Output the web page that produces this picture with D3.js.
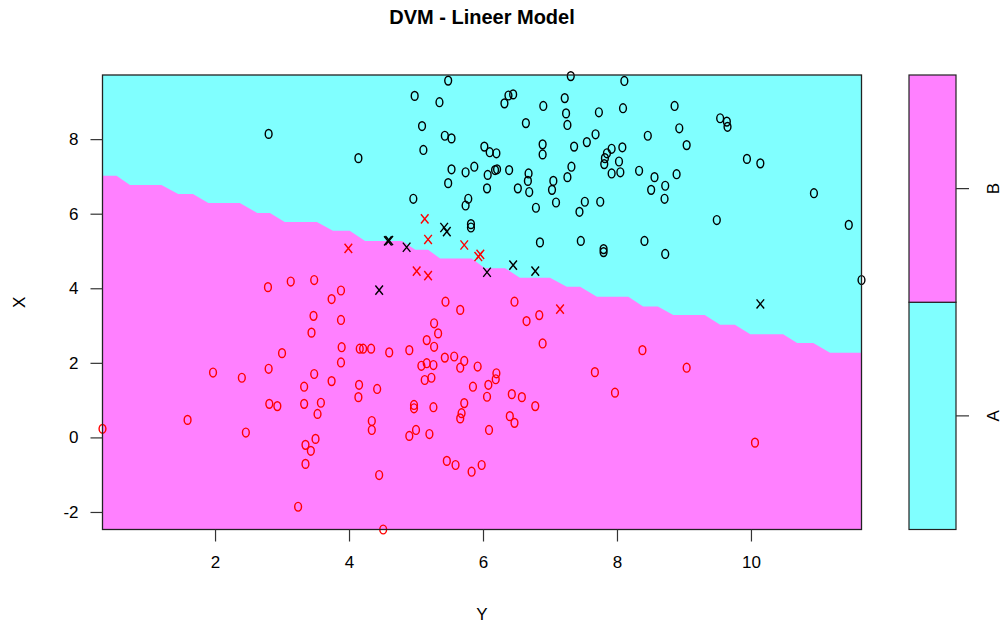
<!DOCTYPE html>
<html>
<head>
<meta charset="utf-8">
<script src="https://cdn.jsdelivr.net/npm/d3@7"></script>
<style>
    body { margin: 0; background: #fff; }
    text { font-family: "Liberation Sans", Arial, sans-serif; fill: #000; }
</style>
</head>
<body>
<svg id="chart" width="1008" height="632"></svg>
<script>
// decision boundary (top edge of the B region)
var boundary = [
    [0.32, 7.02], [0.53, 7.02], [0.73, 6.77], [1.20, 6.77], [1.45, 6.53], [1.67, 6.53],
    [1.90, 6.29], [2.37, 6.29], [2.63, 6.02], [2.82, 6.02], [3.04, 5.78], [3.52, 5.78],
    [3.76, 5.54], [4.01, 5.54], [4.24, 5.27], [4.79, 5.27], [4.99, 5.03], [5.18, 5.03],
    [5.36, 4.80], [5.83, 4.80], [6.03, 4.54], [6.33, 4.54], [6.55, 4.28], [7.00, 4.28],
    [7.25, 4.04], [7.45, 4.04], [7.70, 3.77], [8.17, 3.77], [8.39, 3.51], [8.61, 3.51],
    [8.84, 3.28], [9.31, 3.28], [9.54, 3.02], [9.76, 3.02], [9.99, 2.77], [10.48, 2.77],
    [10.69, 2.53], [10.93, 2.53], [11.18, 2.27], [11.65, 2.27]
];

// class A, not support vectors (black o)
var classA = [
    [5.48, 9.57], [4.98, 9.16], [5.35, 8.99], [6.38, 9.17], [6.45, 9.20], [6.32, 8.96],
    [7.31, 9.69], [7.22, 9.10], [6.90, 8.89], [7.24, 8.69], [7.26, 8.38], [7.73, 8.72],
    [5.09, 8.35], [6.64, 8.43], [5.43, 8.09], [5.53, 8.02], [5.11, 7.71], [4.14, 7.49],
    [6.02, 7.80], [6.10, 7.65], [6.20, 7.62], [6.89, 7.86], [6.89, 7.59], [7.36, 7.80],
    [7.55, 7.92], [7.68, 8.13], [5.53, 7.19], [5.87, 7.26], [5.74, 7.11], [6.07, 7.04],
    [6.18, 7.17], [6.21, 7.19], [6.39, 7.17], [6.68, 7.08], [6.67, 6.88], [7.32, 7.26],
    [7.26, 6.98], [7.05, 6.88], [7.03, 6.64], [5.48, 6.82], [6.06, 6.68], [6.52, 6.68],
    [6.69, 6.58], [4.96, 6.40], [5.78, 6.40], [5.74, 6.22], [6.79, 6.16], [7.09, 6.30],
    [7.52, 6.32], [7.44, 6.05], [7.75, 6.32], [5.82, 5.72], [5.82, 5.63], [6.85, 5.23],
    [7.46, 5.27], [2.80, 8.14],
    [8.11, 9.56], [8.09, 8.83], [8.86, 8.89], [9.54, 8.56], [9.64, 8.47], [9.65, 8.33],
    [8.46, 8.09], [8.93, 8.29], [9.04, 7.84], [9.94, 7.47], [10.14, 7.35], [7.85, 7.62],
    [7.92, 7.74], [8.08, 7.78], [7.82, 7.49], [7.81, 7.33], [8.03, 7.40], [7.92, 7.08],
    [8.05, 7.11], [8.33, 7.15], [8.56, 6.98], [8.89, 7.06], [8.72, 6.75], [8.51, 6.64],
    [8.71, 6.40], [9.49, 5.83], [10.94, 6.55], [11.46, 5.70], [11.65, 4.22], [8.41, 5.27],
    [8.72, 4.92], [7.80, 5.05], [7.80, 4.97]
];

// class B, not support vectors (red o)
var classB = [
    [2.79, 4.03], [3.13, 4.18], [3.48, 4.22], [3.88, 3.94], [3.74, 3.71],
    [3.47, 3.26], [3.88, 3.15], [3.44, 2.81], [3.00, 2.26], [3.89, 2.42], [3.88, 2.01],
    [1.97, 1.74], [2.40, 1.60], [2.80, 1.84], [3.48, 1.70], [3.74, 1.51], [3.33, 1.36],
    [2.81, 0.90], [2.93, 0.84], [3.33, 0.90], [3.58, 0.93], [3.53, 0.63], [1.59, 0.47],
    [0.32, 0.23], [2.46, 0.13], [3.50, -0.04], [3.35, -0.20], [3.43, -0.36], [3.35, -0.71],
    [3.24, -1.86],
    [5.44, 3.64], [5.66, 3.42], [6.47, 3.64], [6.65, 3.12], [6.84, 3.28], [5.27, 3.06],
    [5.33, 2.79], [5.16, 2.61], [5.27, 2.43], [4.16, 2.38], [4.21, 2.38], [4.33, 2.38],
    [4.60, 2.28], [4.90, 2.34], [6.89, 2.52], [5.08, 1.92], [5.16, 1.99], [5.26, 1.94],
    [5.43, 2.14], [5.57, 2.17], [5.72, 2.05], [5.66, 1.87], [5.92, 1.90], [6.20, 1.72],
    [6.19, 1.56], [6.08, 1.41], [5.85, 1.36], [6.06, 1.09], [5.13, 1.54], [5.23, 1.60],
    [4.15, 1.41], [4.42, 1.30], [4.14, 1.08], [6.43, 1.16], [6.58, 1.08], [6.78, 0.84],
    [7.67, 1.75], [4.97, 0.87], [4.97, 0.78], [5.26, 0.81], [5.72, 0.92], [5.68, 0.65],
    [5.66, 0.51], [6.40, 0.57], [6.47, 0.39], [4.34, 0.44], [4.34, 0.20], [5.00, 0.20],
    [4.90, 0.04], [5.20, 0.09], [6.09, 0.20], [5.46, -0.63], [5.59, -0.74], [5.83, -0.92],
    [5.98, -0.74], [4.45, -1.01], [4.51, -2.47],
    [8.38, 2.34], [7.97, 1.20], [9.04, 1.87], [10.06, -0.14]
];

// support vectors (x)
var supportA = [
    [5.42, 5.63], [5.46, 5.52], [4.58, 5.27], [4.60, 5.28], [4.86, 5.10],
    [6.06, 4.43], [6.45, 4.62], [6.78, 4.46], [4.45, 3.95], [10.14, 3.58]
];
var supportB = [
    [3.99, 5.07], [5.13, 5.86], [5.18, 5.31], [5.72, 5.16], [5.93, 4.85],
    [5.96, 4.91], [5.01, 4.46], [5.18, 4.34], [7.15, 3.44]
];

var xTicks = [2, 4, 6, 8, 10];
var yTicks = [-2, 0, 2, 4, 6, 8];
var levels = ["A", "B"];
var levelColors = { A: "#80FFFF", B: "#FF80FF" };

var plot = { left: 102.5, right: 861.5, top: 75, bottom: 529.5 };
var legend = { left: 909, right: 956 };

var svg = d3.select("#chart");

var x = d3.scaleLinear().domain([0.32, 11.65]).range([plot.left, plot.right]);
var y = d3.scaleLinear().domain([-2.47, 9.72]).range([plot.bottom, plot.top]);

drawRegions();
drawPoints();
drawAxes();
drawLegend();
drawTitles();

function drawRegions() {
    svg.append("rect")
        .attr("x", plot.left).attr("y", plot.top)
        .attr("width", plot.right - plot.left).attr("height", plot.bottom - plot.top)
        .attr("fill", levelColors.A);

    // B region: everything under the boundary
    var area = d3.area()
        .x(function (d) { return x(d[0]); })
        .y0(y(-2.47))
        .y1(function (d) { return y(d[1]); });

    svg.append("path")
        .datum(boundary)
        .attr("d", area)
        .attr("fill", levelColors.B);
}

function drawPoints() {
    var g = svg.append("g");

    function circles(data, color) {
        g.selectAll(null).data(data).enter().append("ellipse")
            .attr("cx", function (d) { return x(d[0]); })
            .attr("cy", function (d) { return y(d[1]); })
            .attr("rx", 3.4).attr("ry", 4.4)
            .attr("fill", "none")
            .attr("stroke", color)
            .attr("stroke-width", 1.4);
    }

    function crosses(data, color) {
        g.selectAll(null).data(data).enter().append("path")
            .attr("d", function (d) {
                var cx = x(d[0]), cy = y(d[1]);
                return "M" + (cx - 3.8) + "," + (cy - 4.6) + "L" + (cx + 3.8) + "," + (cy + 4.6) +
                       "M" + (cx + 3.8) + "," + (cy - 4.6) + "L" + (cx - 3.8) + "," + (cy + 4.6);
            })
            .attr("fill", "none")
            .attr("stroke", color)
            .attr("stroke-width", 1.4);
    }

    circles(classA, "#000000");
    circles(classB, "#FF0000");
    crosses(supportA, "#000000");
    crosses(supportB, "#FF0000");
}

function drawAxes() {
    svg.append("rect")
        .attr("x", plot.left).attr("y", plot.top)
        .attr("width", plot.right - plot.left).attr("height", plot.bottom - plot.top)
        .attr("fill", "none").attr("stroke", "#222").attr("stroke-width", 1.3);

    // plain hyphen for negatives, like the original
    var plain = function (d) { return String(d); };

    var xAxis = svg.append("g")
        .attr("transform", "translate(0," + plot.bottom + ")")
        .call(d3.axisBottom(x).tickValues(xTicks).tickFormat(plain).tickSize(12).tickPadding(14).tickSizeOuter(0));
    var yAxis = svg.append("g")
        .attr("transform", "translate(" + plot.left + ",0)")
        .call(d3.axisLeft(y).tickValues(yTicks).tickFormat(plain).tickSize(12).tickPadding(12).tickSizeOuter(0));

    [xAxis, yAxis].forEach(function (a) {
        a.select(".domain").remove();
        a.selectAll("line").attr("stroke", "#333").attr("stroke-width", 1.2);
        a.selectAll("text")
            .style("font-family", "'Liberation Sans', Arial, sans-serif")
            .style("font-size", "17px")
            .attr("fill", "#222");
    });
}

function drawLegend() {
    var ly = d3.scaleBand().domain(levels.slice().reverse()).range([plot.top, plot.bottom]);

    svg.append("g").selectAll("rect").data(levels).enter().append("rect")
        .attr("x", legend.left)
        .attr("y", function (d) { return ly(d); })
        .attr("width", legend.right - legend.left)
        .attr("height", ly.bandwidth())
        .attr("fill", function (d) { return levelColors[d]; })
        .attr("stroke", "#222").attr("stroke-width", 1.2);

    var ticks = svg.append("g").selectAll("g").data(levels).enter().append("g")
        .attr("transform", function (d) { return "translate(0," + (ly(d) + ly.bandwidth() / 2) + ")"; });
    ticks.append("line")
        .attr("x1", legend.right).attr("x2", legend.right + 13)
        .attr("stroke", "#333").attr("stroke-width", 1.2);
    ticks.append("text")
        .attr("transform", "translate(999,0) rotate(-90)")
        .attr("text-anchor", "middle")
        .style("font-size", "17px")
        .text(function (d) { return d; });
}

function drawTitles() {
    svg.append("text")
        .attr("x", (plot.left + plot.right) / 2).attr("y", 24)
        .attr("text-anchor", "middle")
        .style("font-size", "20px").style("font-weight", "bold")
        .text("DVM - Lineer Model");

    svg.append("text")
        .attr("x", (plot.left + plot.right) / 2).attr("y", 620)
        .attr("text-anchor", "middle")
        .style("font-size", "17px")
        .text("Y");

    svg.append("text")
        .attr("transform", "translate(25," + (plot.top + plot.bottom) / 2 + ") rotate(-90)")
        .attr("text-anchor", "middle")
        .style("font-size", "17px")
        .text("X");
}
</script>
</body>
</html>
